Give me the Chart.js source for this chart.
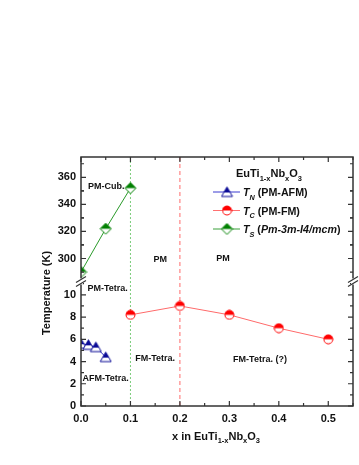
<!DOCTYPE html>
<html>
<head>
<meta charset="utf-8">
<script src="https://cdn.jsdelivr.net/npm/chart.js@4.4.1/dist/chart.umd.min.js"></script>
<style>
  html, body { margin: 0; padding: 0; background: #fff; }
  #wrap { width: 359px; height: 465px; }
</style>
</head>
<body>
<div id="wrap"><canvas id="chart" width="359" height="465"></canvas></div>
<script>
// 組成 x とそれぞれの転移温度
const xN = [0, 0.015, 0.03, 0.05];
const tN = [5.6, 5.5, 5.3, 4.4];
const xC = [0.1, 0.2, 0.3, 0.4, 0.5];
const tC = [8.2, 9.0, 8.2, 7.0, 6.0];
const xS = [0, 0.05, 0.1];
const tS = [290, 322, 352];

// 目盛り
const xTicks = [0, 0.1, 0.2, 0.3, 0.4, 0.5];
const lowTicks = [0, 2, 4, 6, 8, 10];
const highTicks = [300, 320, 340, 360];

// 相境界の縦線
const boundGreen = 0.1;
const boundRed = 0.2;

const FONT = 'Arial, "Liberation Sans", sans-serif';
const AXIS = '#333';

// 上半分だけ塗ったマーカーを作る
function halfMarker(shape, color) {
    const c = document.createElement('canvas');
    const s = shape === 'circle' ? 11 : 13;
    c.width = s; c.height = s;
    const g = c.getContext('2d');
    g.beginPath();
    if (shape === 'triangle') {
        g.moveTo(6.5, 1.5); g.lineTo(12, 11); g.lineTo(1, 11); g.closePath();
    } else if (shape === 'circle') {
        g.arc(5.5, 5.5, 4.5, 0, Math.PI * 2);
    } else {
        g.moveTo(6.5, 1); g.lineTo(12, 6.5); g.lineTo(6.5, 12); g.lineTo(1, 6.5); g.closePath();
    }
    g.fillStyle = '#fff';
    g.fill();
    g.save();
    g.clip();
    g.fillStyle = color;
    g.fillRect(0, 0, s, shape === 'triangle' ? 7 : s / 2);
    g.restore();
    g.strokeStyle = color;
    g.lineWidth = 1;
    g.stroke();
    return c;
}

const mkN = halfMarker('triangle', '#0a0a96');
const mkC = halfMarker('circle', '#ff0000');
const mkS = halfMarker('diamond', '#008000');

function pts(xs, ys) {
    return xs.map((x, i) => ({ x: x, y: ys[i] }));
}

// 添字付きテキストを描く
function richText(ctx, parts, x, y, size) {
    let cx = x;
    parts.forEach(p => {
        const sub = p.sub;
        const fs = sub ? size * 0.68 : size;
        ctx.font = (p.italic ? 'italic ' : '') + 'bold ' + fs + 'px ' + FONT;
        ctx.fillText(p.t, cx, sub ? y + size * 0.35 : y);
        cx += ctx.measureText(p.t).width;
    });
    return cx - x;
}
function richWidth(ctx, parts, size) {
    let w = 0;
    parts.forEach(p => {
        const fs = p.sub ? size * 0.68 : size;
        ctx.font = (p.italic ? 'italic ' : '') + 'bold ' + fs + 'px ' + FONT;
        w += ctx.measureText(p.t).width;
    });
    return w;
}

const formula = [{ t: 'EuTi' }, { t: '1-x', sub: true }, { t: 'Nb' }, { t: 'x', sub: true }, { t: 'O' }, { t: '3', sub: true }];

const decoPlugin = {
    id: 'deco',
    beforeDatasetsDraw(chart) {
        const { ctx, chartArea: a, scales } = chart;
        ctx.save();
        ctx.lineWidth = 1;
        ctx.strokeStyle = '#7ccc7c';
        ctx.setLineDash([2, 2]);
        let px = scales.x.getPixelForValue(boundGreen);
        ctx.beginPath(); ctx.moveTo(px, a.top); ctx.lineTo(px, a.bottom); ctx.stroke();
        ctx.strokeStyle = '#ff6b6b';
        ctx.setLineDash([4, 3]);
        px = scales.x.getPixelForValue(boundRed);
        ctx.beginPath(); ctx.moveTo(px, a.top); ctx.lineTo(px, a.bottom); ctx.stroke();
        ctx.restore();
    },
    afterDraw(chart) {
        const { ctx, chartArea: a, scales } = chart;
        const x = scales.x, yL = scales.yLow, yH = scales.yHigh;
        ctx.save();

        // 枠
        ctx.strokeStyle = AXIS;
        ctx.lineWidth = 1.5;
        ctx.strokeRect(a.left, a.top, a.right - a.left, a.bottom - a.top);

        // 内向きの目盛り
        ctx.lineWidth = 1.2;
        function hTick(v, len) {
            const p = x.getPixelForValue(v);
            ctx.beginPath();
            ctx.moveTo(p, a.bottom); ctx.lineTo(p, a.bottom - len);
            ctx.moveTo(p, a.top); ctx.lineTo(p, a.top + len);
            ctx.stroke();
        }
        function vTick(s, v, len) {
            const p = s.getPixelForValue(v);
            ctx.beginPath();
            ctx.moveTo(a.left, p); ctx.lineTo(a.left + len, p);
            ctx.moveTo(a.right, p); ctx.lineTo(a.right - len, p);
            ctx.stroke();
        }
        const step = xTicks[1] - xTicks[0];
        xTicks.forEach(v => {
            hTick(v, 5);
            if (v + step / 2 <= x.max + 1e-9) hTick(v + step / 2, 3);
        });
        const ls = lowTicks[1] - lowTicks[0];
        lowTicks.forEach(v => {
            vTick(yL, v, 5);
            if (v + ls / 2 <= yL.max) vTick(yL, v + ls / 2, 3);
        });
        const hs = highTicks[1] - highTicks[0];
        highTicks.forEach(v => {
            vTick(yH, v, 5);
            if (v - hs / 2 >= yH.min) vTick(yH, v - hs / 2, 3);
            if (v + hs / 2 <= yH.max) vTick(yH, v + hs / 2, 3);
        });

        // 軸の切れ目
        const by = yL.top;
        [a.left, a.right].forEach(ax => {
            ctx.fillStyle = '#fff';
            ctx.fillRect(ax - 2, by - 3, 4, 6);
            ctx.strokeStyle = AXIS;
            ctx.lineWidth = 1.2;
            ctx.beginPath();
            ctx.moveTo(ax - 5, by + 1); ctx.lineTo(ax + 5, by - 5);
            ctx.moveTo(ax - 5, by + 5); ctx.lineTo(ax + 5, by - 1);
            ctx.stroke();
        });

        // 相の名前
        ctx.fillStyle = '#111';
        ctx.textBaseline = 'middle';
        ctx.font = 'bold 9px ' + FONT;
        const labels = [
            ['PM-Cub.', x.getPixelForValue(0.014), yH.getPixelForValue(353), 'left'],
            ['PM', x.getPixelForValue(0.16), yH.getPixelForValue(299), 'center'],
            ['PM', x.getPixelForValue(0.287), yH.getPixelForValue(300), 'center'],
            ['PM-Tetra.', x.getPixelForValue(0.013), yL.getPixelForValue(10.6), 'left'],
            ['FM-Tetra.', x.getPixelForValue(0.15), yL.getPixelForValue(4.3), 'center'],
            ['AFM-Tetra.', x.getPixelForValue(0.003), yL.getPixelForValue(2.5), 'left'],
            ['FM-Tetra. (?)', x.getPixelForValue(0.362), yL.getPixelForValue(4.2), 'center']
        ];
        labels.forEach(l => {
            ctx.textAlign = l[3];
            ctx.fillText(l[0], l[1], l[2]);
        });

        // 凡例
        ctx.textAlign = 'left';
        ctx.textBaseline = 'alphabetic';
        const fw = richWidth(ctx, formula, 11);
        richText(ctx, formula, 269 - fw / 2, 177, 11);
        const rows = [
            { y: 192, color: '#3b3bd0', mk: mkN, parts: [{ t: 'T', italic: true }, { t: 'N', italic: true, sub: true }, { t: ' (PM-AFM)' }] },
            { y: 210.5, color: '#ff7070', mk: mkC, parts: [{ t: 'T', italic: true }, { t: 'C', italic: true, sub: true }, { t: ' (PM-FM)' }] },
            { y: 229, color: '#3aa03a', mk: mkS, parts: [{ t: 'T', italic: true }, { t: 'S', italic: true, sub: true }, { t: ' (' }, { t: 'Pm-3m-I4/mcm', italic: true }, { t: ')' }] }
        ];
        rows.forEach(r => {
            ctx.strokeStyle = r.color;
            ctx.lineWidth = 1;
            ctx.beginPath(); ctx.moveTo(213, r.y); ctx.lineTo(240, r.y); ctx.stroke();
            ctx.drawImage(r.mk, 227 - r.mk.width / 2, r.y - r.mk.height / 2);
            ctx.fillStyle = '#111';
            richText(ctx, r.parts, 243, r.y + 4, 10.7);
        });

        // 軸タイトル
        ctx.save();
        ctx.translate(47, 293);
        ctx.rotate(-Math.PI / 2);
        ctx.textAlign = 'center';
        ctx.textBaseline = 'middle';
        ctx.font = 'bold 11px ' + FONT;
        ctx.fillText('Temperature (K)', 0, 0);
        ctx.restore();

        const xt = [{ t: 'x in EuTi' }, { t: '1-x', sub: true }, { t: 'Nb' }, { t: 'x', sub: true }, { t: 'O' }, { t: '3', sub: true }];
        const xw = richWidth(ctx, xt, 11);
        ctx.textAlign = 'left';
        ctx.textBaseline = 'middle';
        richText(ctx, xt, 216 - xw / 2, 437, 11);

        ctx.restore();
    }
};

const tickFont = { family: FONT, size: 11, weight: 'bold' };

new Chart(document.getElementById('chart'), {
    type: 'line',
    data: {
        datasets: [
            { data: pts(xN, tN), yAxisID: 'yLow', borderColor: '#2a2ac0', borderWidth: 1, pointStyle: mkN, clip: 0 },
            { data: pts(xC, tC), yAxisID: 'yLow', borderColor: '#ff6a6a', borderWidth: 1, pointStyle: mkC, clip: 0 },
            { data: pts(xS, tS), yAxisID: 'yHigh', borderColor: '#2a9a2a', borderWidth: 1, pointStyle: mkS, clip: 0 }
        ]
    },
    options: {
        responsive: false,
        animation: false,
        layout: { padding: { top: 157, right: 6, left: 0, bottom: 0 } },
        plugins: { legend: { display: false }, tooltip: { enabled: false } },
        scales: {
            x: {
                type: 'linear', position: 'bottom', min: 0, max: 0.55,
                grid: { display: false, drawTicks: false },
                border: { display: false },
                afterBuildTicks: s => { s.ticks = xTicks.map(v => ({ value: v })); },
                afterFit: s => { s.height = 59; },
                ticks: { font: tickFont, color: '#111', padding: 6, maxRotation: 0, autoSkip: false, callback: v => v.toFixed(1) }
            },
            yLow: {
                type: 'linear', position: 'left', stack: 'temp', stackWeight: 1, weight: 0,
                min: 0, max: 11.2,
                grid: { display: false, drawTicks: false },
                border: { display: false },
                afterBuildTicks: s => { s.ticks = lowTicks.map(v => ({ value: v })); },
                afterFit: s => { s.width = 81; },
                ticks: { font: tickFont, color: '#111', padding: 5, autoSkip: false }
            },
            yHigh: {
                type: 'linear', position: 'left', stack: 'temp', stackWeight: 1, weight: 1,
                min: 283, max: 375,
                grid: { display: false, drawTicks: false },
                border: { display: false },
                afterBuildTicks: s => { s.ticks = highTicks.map(v => ({ value: v })); },
                afterFit: s => { s.width = 81; },
                ticks: { font: tickFont, color: '#111', padding: 5, autoSkip: false }
            }
        }
    },
    plugins: [decoPlugin]
});
</script>
</body>
</html>
